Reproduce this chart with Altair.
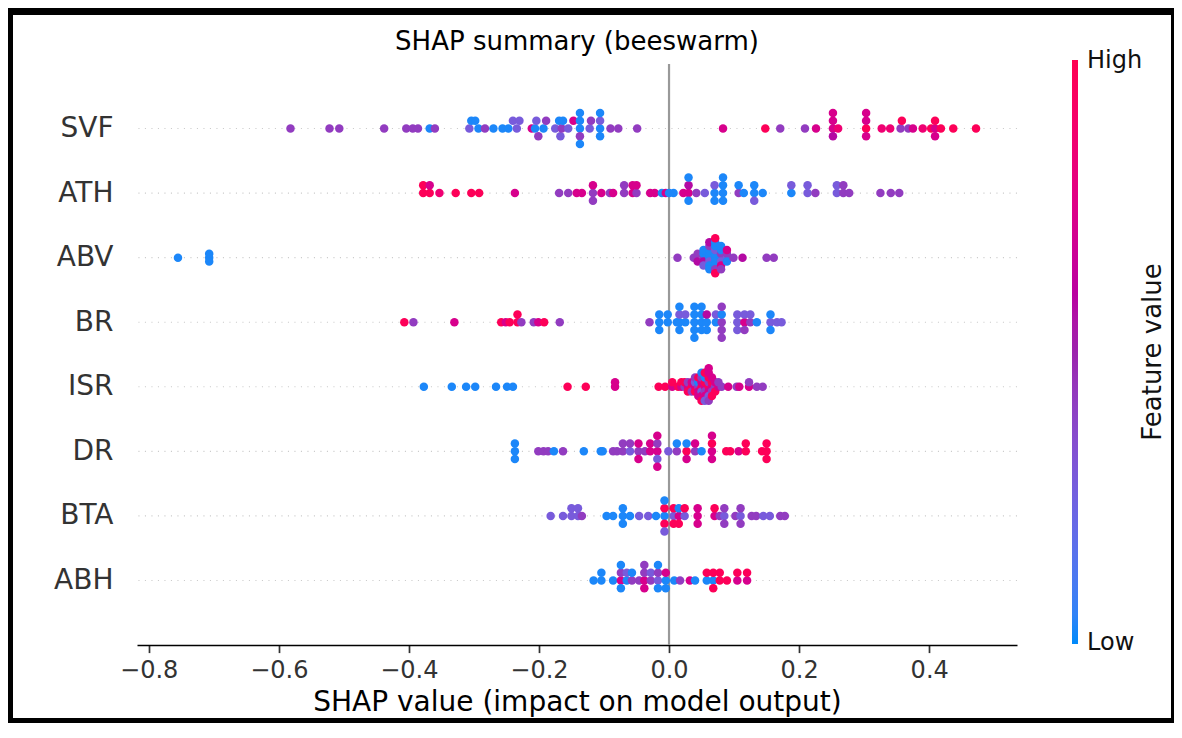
import altair as alt
import numpy as np
import pandas as pd

# ---------------- text / categories ----------------
FEATURES = ["SVF", "ATH", "ABV", "BR", "ISR", "DR", "BTA", "ABH"]   # top -> bottom
X_TICKS = [-0.8, -0.6, -0.4, -0.2, 0.0, 0.2, 0.4]
X_DOMAIN = [-0.818, 0.535]
ZERO_LINE = [0.0]
TITLE = "SHAP summary (beeswarm)"
X_TITLE = "SHAP value (impact on model output)"
LEGEND_TITLE = "Feature value"
LEGEND_LABELS = ["Low", "High"]
COLOR_STOPS = ["#008afa", "#9c23ad", "#ff0051"]

# normalised feature values
B, BP, P, MP, M, RM, R = 0.02, 0.28, 0.42, 0.58, 0.72, 0.85, 0.97

# ---------------- (shap value, feature value) per feature ----------------
SVF = [(-0.582, P), (-0.522, P), (-0.507, P), (-0.438, P), (-0.404, P), (-0.394, P),
       (-0.386, P), (-0.368, B), (-0.360, P), (-0.307, BP), (-0.304, B), (-0.293, B),
       (-0.298, B), (-0.283, P), (-0.270, B), (-0.256, B), (-0.247, B), (-0.240, BP),
       (-0.234, BP), (-0.230, BP), (-0.211, M), (-0.206, B), (-0.204, BP), (-0.201, P),
       (-0.193, B), (-0.189, P), (-0.175, BP), (-0.169, B), (-0.167, BP), (-0.165, P),
       (-0.163, B), (-0.155, BP), (-0.147, M),
       (-0.137, B), (-0.137, B), (-0.137, P), (-0.137, B), (-0.137, B),
       (-0.122, BP), (-0.120, P),
       (-0.106, B), (-0.106, BP), (-0.106, B), (-0.106, B),
       (-0.090, P), (-0.078, P), (-0.049, P), (0.083, M), (0.148, R), (0.171, P),
       (0.209, P), (0.226, M),
       (0.252, M), (0.252, M), (0.252, MP), (0.252, M), (0.260, RM),
       (0.303, R), (0.303, M), (0.303, M), (0.303, M),
       (0.327, RM), (0.340, RM), (0.356, P), (0.358, R), (0.368, P), (0.375, M),
       (0.390, RM), (0.403, R), (0.409, M), (0.409, R), (0.409, M), (0.418, R),
       (0.437, R), (0.472, R)]

ATH = [(-0.378, R), (-0.378, R), (-0.368, R), (-0.368, M), (-0.353, RM), (-0.328, R),
       (-0.304, R), (-0.292, R), (-0.237, M), (-0.169, P), (-0.155, P), (-0.142, M),
       (-0.134, M), (-0.117, P), (-0.117, M), (-0.117, P), (-0.104, M), (-0.091, P),
       (-0.086, M), (-0.069, P), (-0.069, P), (-0.056, M), (-0.056, M), (-0.050, P),
       (-0.050, M), (-0.029, M), (-0.022, M), (-0.011, B), (-0.005, M), (0.000, B),
       (0.007, B), (0.022, M), (0.030, M), (0.030, MP), (0.030, B), (0.030, B),
       (0.042, P), (0.055, BP), (0.070, B), (0.070, BP), (0.070, B),
       (0.083, B), (0.083, B), (0.083, B), (0.083, B), (0.107, P), (0.107, B),
       (0.115, B), (0.131, B), (0.131, B), (0.131, BP), (0.144, B), (0.188, B),
       (0.188, BP), (0.213, BP), (0.213, BP), (0.225, P), (0.258, BP), (0.258, BP),
       (0.268, P), (0.268, P), (0.277, P), (0.325, P), (0.341, P), (0.354, P)]

ABV = [(-0.755, B), (-0.707, B), (-0.707, B), (-0.707, B), (0.013, P), (0.038, P),
       (0.044, P), (0.044, MP),
       (0.053, P), (0.053, B), (0.053, MP), (0.053, B), (0.053, BP),
       (0.062, B), (0.062, B), (0.062, BP), (0.062, B), (0.062, B), (0.062, P),
       (0.062, B), (0.062, MP),
       (0.071, B), (0.071, B), (0.071, B), (0.071, BP), (0.071, B), (0.071, B),
       (0.071, P), (0.071, B), (0.071, R), (0.071, R),
       (0.080, B), (0.080, P), (0.080, BP), (0.080, B), (0.080, M), (0.080, B),
       (0.080, P),
       (0.089, BP), (0.089, P), (0.089, B), (0.089, M),
       (0.099, P), (0.113, MP), (0.150, P), (0.161, P)]

BR = [(-0.407, R), (-0.393, P), (-0.330, M), (-0.258, R), (-0.251, M), (-0.245, R),
      (-0.233, R), (-0.233, R), (-0.227, P), (-0.208, P), (-0.201, M), (-0.192, R),
      (-0.168, P), (-0.030, P), (-0.015, B), (-0.015, B), (-0.015, B), (-0.002, B),
      (-0.002, B), (0.012, B), (0.016, B), (0.016, BP), (0.016, B), (0.016, B),
      (0.025, B), (0.025, BP), (0.039, B), (0.039, B), (0.039, B), (0.039, B),
      (0.039, B), (0.050, B), (0.050, B), (0.050, B), (0.050, B), (0.058, B),
      (0.058, MP), (0.058, B), (0.072, B), (0.072, BP), (0.081, P), (0.081, B),
      (0.081, P), (0.081, P), (0.081, P), (0.105, BP), (0.105, BP), (0.105, BP),
      (0.116, M), (0.116, BP), (0.116, P), (0.125, P), (0.125, BP), (0.135, B),
      (0.156, BP), (0.156, B), (0.156, B), (0.166, BP), (0.173, BP)]

ISR = [(-0.377, B), (-0.334, B), (-0.312, B), (-0.298, B), (-0.266, B), (-0.249, B),
       (-0.240, B), (-0.156, R), (-0.128, R), (-0.083, M), (-0.083, M), (-0.016, R),
       (-0.006, R), (0.005, M), (0.005, R), (0.014, R), (0.019, M), (0.019, R),
       (0.024, P), (0.024, R), (0.029, M), (0.029, P), (0.029, R),
       (0.035, R), (0.035, M), (0.035, P),
       (0.040, M), (0.040, BP), (0.040, R), (0.040, P),
       (0.045, P), (0.045, B), (0.045, M), (0.045, R), (0.045, M),
       (0.050, R), (0.050, M), (0.050, BP), (0.050, P), (0.050, M), (0.050, B), (0.050, R),
       (0.055, M), (0.055, R), (0.055, P), (0.055, B), (0.055, M), (0.055, R), (0.055, BP),
       (0.061, R), (0.061, P), (0.061, M), (0.061, R), (0.061, BP), (0.061, M),
       (0.061, P), (0.061, M),
       (0.066, M), (0.066, R), (0.066, P), (0.066, M), (0.066, R),
       (0.071, P), (0.071, M), (0.071, R), (0.076, M), (0.076, P),
       (0.081, P), (0.091, M), (0.104, P), (0.108, M), (0.123, M), (0.123, P),
       (0.135, P), (0.144, P)]

DR = [(-0.237, B), (-0.237, B), (-0.237, B), (-0.201, P), (-0.193, P), (-0.186, P),
      (-0.177, B), (-0.163, P), (-0.131, B), (-0.105, B), (-0.102, B), (-0.086, P),
      (-0.080, P), (-0.071, P), (-0.071, P), (-0.060, BP), (-0.060, P),
      (-0.047, P), (-0.047, M), (-0.047, M), (-0.037, P), (-0.029, M), (-0.029, M),
      (-0.018, M), (-0.018, P), (-0.018, BP), (-0.018, M), (-0.018, M),
      (-0.001, BP), (0.012, P), (0.012, B), (0.027, R), (0.027, B), (0.027, M),
      (0.040, P), (0.040, M), (0.050, B),
      (0.066, M), (0.066, R), (0.066, M), (0.066, M),
      (0.088, R), (0.094, R), (0.107, M), (0.118, R), (0.118, R), (0.143, R),
      (0.150, R), (0.150, R), (0.150, R)]

BTA = [(-0.182, BP), (-0.163, BP), (-0.150, BP), (-0.150, BP), (-0.140, BP),
       (-0.140, BP), (-0.134, P), (-0.096, B), (-0.086, B), (-0.071, B), (-0.071, B),
       (-0.071, B), (-0.060, B), (-0.046, BP), (-0.032, BP), (-0.020, B),
       (-0.007, B), (-0.007, R), (-0.007, R), (-0.007, B), (-0.007, BP),
       (0.007, BP), (0.007, R), (0.007, R), (0.015, M), (0.015, B), (0.015, R),
       (0.024, BP), (0.024, R), (0.044, M), (0.044, M), (0.044, M),
       (0.070, M), (0.070, R), (0.078, P), (0.085, BP), (0.085, P), (0.085, P),
       (0.102, P), (0.110, BP), (0.110, P), (0.110, P), (0.127, P), (0.134, P),
       (0.145, BP), (0.155, BP), (0.171, P), (0.178, P)]

ABH = [(-0.116, B), (-0.104, B), (-0.104, B), (-0.086, B),
       (-0.074, M), (-0.074, P), (-0.074, B), (-0.074, B),
       (-0.065, B), (-0.065, BP), (-0.057, P), (-0.057, B), (-0.046, P),
       (-0.038, M), (-0.038, P), (-0.038, M), (-0.038, P),
       (-0.028, P), (-0.028, BP), (-0.017, BP), (-0.017, P), (-0.017, B), (-0.017, B),
       (-0.005, B), (-0.005, M), (-0.005, B), (0.008, B), (0.017, P), (0.032, M),
       (0.040, B), (0.058, B), (0.058, R), (0.068, B), (0.068, R), (0.068, R),
       (0.078, R), (0.078, R), (0.089, R), (0.105, M), (0.105, R), (0.120, M),
       (0.120, R)]

SERIES = {"SVF": SVF, "ATH": ATH, "ABV": ABV, "BR": BR,
          "ISR": ISR, "DR": DR, "BTA": BTA, "ABH": ABH}


def swarm_offsets(shaps, row_height=0.4, nbins=100):
    """Deterministic beeswarm layout as used by shap's summary plot."""
    s = np.asarray(shaps, dtype=float)
    quant = np.round(nbins * (s - s.min()) / (s.max() - s.min() + 1e-8))
    order = np.argsort(quant, kind="stable")
    ys = np.zeros(len(s))
    layer, last = 0, None
    for i in order:
        if quant[i] != last:
            layer = 0
        ys[i] = np.ceil(layer / 2) * ((layer % 2) * 2 - 1)
        layer += 1
        last = quant[i]
    ys *= 0.9 * (row_height / np.max(ys + 1))
    return ys


records = []
n = len(FEATURES)
for idx, name in enumerate(FEATURES):
    pts = SERIES[name]
    shaps = [p[0] for p in pts]
    offs = swarm_offsets(shaps)
    row = n - 1 - idx
    for (sv, fv), o in zip(pts, offs):
        records.append({"feature": name, "shap": sv, "value": fv, "pos": row + o})
df = pd.DataFrame(records)
rows_df = pd.DataFrame({"feature": FEATURES, "pos": [n - 1 - i for i in range(n)]})
zero_df = pd.DataFrame({"v": ZERO_LINE})

# ---------------- layout ----------------
W, H = 880, 581
PL, PT, PR, PB = 129, 56, 157, 78
TW, TH = W + PL + PR, H + PT + PB   # 1166 x 715: fits the page inside its margins

label_list = ",".join("'%s'" % f for f in FEATURES[::-1])

x_scale = alt.Scale(domain=X_DOMAIN, nice=False, zero=False)
y_scale = alt.Scale(domain=[-1, n], nice=False, zero=False)
x_axis = alt.Axis(values=X_TICKS, format=".1f", grid=False, labelFlush=False,
                  domainColor="#000000", domainWidth=1.7,
                  tickColor="#333333", tickWidth=1.7, tickSize=7.6,
                  labelFontSize=24, labelColor="#333333", labelPadding=6,
                  title=X_TITLE, titleFontSize=28, titleFontWeight="normal",
                  titleColor="#000000", titlePadding=6)
y_axis = alt.Axis(values=list(range(n)), labelExpr="[%s][datum.value]" % label_list,
                  domain=False, ticks=False, grid=False, labelFontSize=28,
                  labelColor="#333333", labelPadding=24, title=None)

rows = alt.Chart(rows_df).mark_rule(color="#cccccc", strokeWidth=1.1,
                                    strokeDash=[1.1, 5.4]).encode(
    y=alt.Y("pos:Q", scale=y_scale, axis=y_axis))

zero = alt.Chart(zero_df).mark_rule(color="#999999", strokeWidth=2.2).encode(
    x=alt.X("v:Q", scale=x_scale, axis=x_axis))

legend = alt.Legend(orient="none", legendX=935, legendY=-4, direction="vertical",
                    gradientLength=584, gradientThickness=6, gradientStrokeWidth=0,
                    values=[0.001, 0.999],
                    labelExpr="datum.value < 0.5 ? '%s' : '%s'" % tuple(LEGEND_LABELS),
                    labelFontSize=24, labelColor="#111111", labelOffset=9,
                    padding=0, title=None)

points = alt.Chart(df).mark_circle(size=72, opacity=1).encode(
    x=alt.X("shap:Q", scale=x_scale, axis=x_axis),
    y=alt.Y("pos:Q", scale=y_scale, axis=y_axis),
    color=alt.Color("value:Q", scale=alt.Scale(domain=[0, 1], range=COLOR_STOPS,
                                               interpolate="hcl"), legend=legend),
)

ftitle = alt.Chart(pd.DataFrame({"t": [LEGEND_TITLE]})).mark_text(
    angle=270, fontSize=26, color="#111111", align="center", baseline="middle"
).encode(text="t:N", x=alt.value(1016), y=alt.value(288))

ctitle = alt.Chart(pd.DataFrame({"t": [TITLE]})).mark_text(
    fontSize=26, color="#000000", align="center", baseline="middle"
).encode(text="t:N", x=alt.value(W / 2), y=alt.value(-22))

one = pd.DataFrame({"k": [0]})
frame = [
    alt.Chart(one).mark_rule(color="black", strokeWidth=7).encode(
        x=alt.value(-PL), x2=alt.value(W + PR), y=alt.value(-PT + 3.5)),
    alt.Chart(one).mark_rule(color="black", strokeWidth=5).encode(
        x=alt.value(-PL), x2=alt.value(W + PR), y=alt.value(H + PB - 2.5)),
    alt.Chart(one).mark_rule(color="black", strokeWidth=5).encode(
        x=alt.value(-PL + 2.5), y=alt.value(-PT), y2=alt.value(H + PB)),
    alt.Chart(one).mark_rule(color="black", strokeWidth=3).encode(
        x=alt.value(W + PR - 1.5), y=alt.value(-PT), y2=alt.value(H + PB)),
]

chart = alt.layer(rows, zero, points, ftitle, ctitle, *frame).properties(
    width=W, height=H,
    autosize=alt.AutoSizeParams(type="none"),
    padding={"left": PL, "top": PT, "right": PR, "bottom": PB},
    background="white",
).configure(font="DejaVu Sans").configure_view(strokeWidth=0, stroke="transparent")

chart.save("out.html", embed_options={"renderer": "svg", "actions": False})
